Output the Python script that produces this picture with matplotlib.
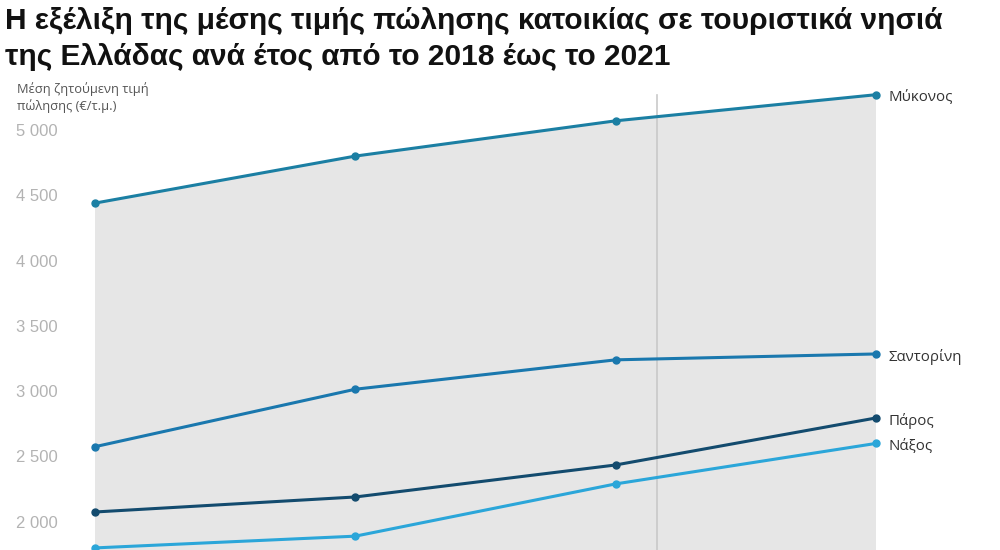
import matplotlib
matplotlib.use("Agg")
import matplotlib.pyplot as plt
import numpy as np

years = [2018, 2019, 2020, 2021]
islands = ["Μύκονος", "Σαντορίνη", "Πάρος", "Νάξος"]
mykonos = [4440, 4800, 5070, 5270]
santorini = [2575, 3015, 3240, 3285]
paros = [2075, 2190, 2435, 2795]
naxos = [1800, 1890, 2290, 2600]
yticks = [2000, 2500, 3000, 3500, 4000, 4500, 5000]

series = [mykonos, santorini, paros, naxos]
colors = ["#1b7fa3", "#1a78ae", "#134b6e", "#2ba6d9"]

fig = plt.figure(figsize=(10, 5.5), dpi=100)
ax = fig.add_axes([0.095, 0.0, 0.781, 1 - 90 / 550])
ax.set_xlim(years[0], years[-1])
ax.set_ylim(1784, 5306)

# shaded area under the top line
ax.fill_between(years, mykonos, 0, color="#e6e6e6", lw=0, zorder=1)
ax.axvline(2020.158, color="#c9c9c9", lw=1.2, ymin=0, ymax=0.99, zorder=2)

for vals, c, name in zip(series, colors, islands):
    ax.plot(years, vals, color=c, lw=2.2, marker="o", ms=5, clip_on=False, zorder=3)
    ax.annotate(name, (years[-1], vals[-1]), xytext=(9, -2), textcoords="offset points",
                fontsize=10.8, color="#333333", family="Open Sans", va="center", ha="left")

for s in ax.spines.values():
    s.set_visible(False)
ax.set_xticks([])
ax.set_yticks(yticks)
ax.set_yticklabels([f"{v:,}".replace(",", " ") for v in yticks],
                   fontsize=12, color="#b3b3b3", family="Liberation Sans")
ax.tick_params(axis="y", length=0, pad=27)

fig.text(0.005, 0.988, "Η εξέλιξη της μέσης τιμής πώλησης κατοικίας σε τουριστικά νησιά\n"
         "της Ελλάδας ανά έτος από το 2018 έως το 2021",
         fontsize=21.5, fontweight="bold", family="Liberation Sans", color="#111111",
         va="top", ha="left", linespacing=1.38)
fig.text(0.017, 0.795, "Μέση ζητούμενη τιμή\nπώλησης (€/τ.μ.)",
         fontsize=9.3, color="#555555", family="Open Sans", va="bottom", ha="left",
         linespacing=1.25)

fig.savefig("out.png", dpi=100)
